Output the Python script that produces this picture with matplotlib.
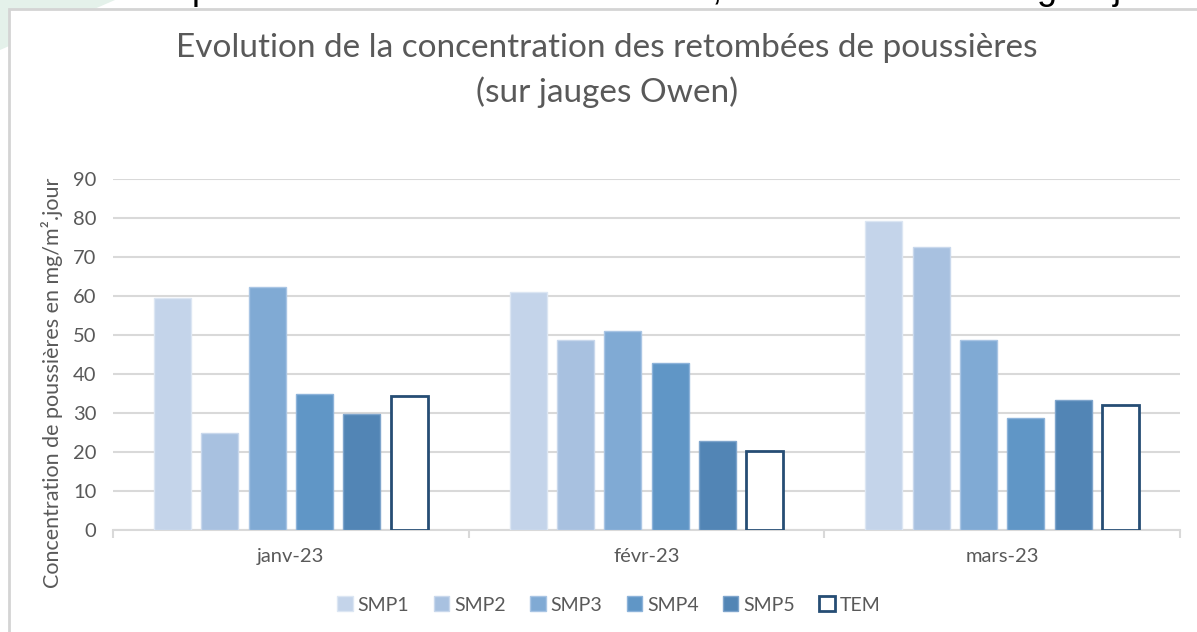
import numpy as np
import matplotlib
matplotlib.use("Agg")
import matplotlib.pyplot as plt
from matplotlib.patches import Rectangle, Polygon

plt.rcParams['font.family'] = ['Lato', 'DejaVu Sans']

# data
months = ['janv-23', 'févr-23', 'mars-23']
series = ['SMP1', 'SMP2', 'SMP3', 'SMP4', 'SMP5', 'TEM']
smp1 = [59.6, 61.0, 79.3]
smp2 = [24.9, 48.6, 72.6]
smp3 = [62.2, 50.9, 48.8]
smp4 = [34.8, 42.9, 28.7]
smp5 = [29.7, 22.8, 33.3]
tem = [34.4, 20.2, 32.1]
values = [smp1, smp2, smp3, smp4, smp5, tem]

fills = ['#C4D4EA', '#A8C1E0', '#80AAD4', '#6096C6', '#5285B5', 'white']
edges = ['#DCE6F3', '#C9D8EC', '#A9C5E4', '#8DB3DA', '#7FA5CC', '#264D74']

W, H = 1197, 632
fig = plt.figure(figsize=(W / 100, H / 100), dpi=100)

# light green decoration top-left + chart frame
fig.patches.append(Polygon([(0, 1), (115 / W, 1), (0, 1 - 50 / H)], closed=True,
                           transform=fig.transFigure, facecolor='#E4F1EA',
                           edgecolor='none', zorder=0))
fig.patches.append(Rectangle((9 / W, -0.01), 1.0, 1 - 9 / H + 0.01,
                             transform=fig.transFigure, facecolor='white',
                             edgecolor='#D4D4D4', linewidth=2, zorder=1))

# cut-off text fragments above the frame (slide text cropped in the source)
for ch, px in [('p', 192), (',', 712), ('g', 1036), ('j', 1113)]:
    fig.text(px / W, 1 + 1 / H, ch, fontsize=26, color='black',
             family='Liberation Sans', va='baseline', ha='left')

ax = fig.add_axes([113 / W, 1 - 530 / H, (1180 - 113) / W, (530 - 179) / H])
ax.set_zorder(2)
ax.patch.set_alpha(0)

x = np.arange(len(months))
step = 0.1332
width = 0.104
for i, (name, vals) in enumerate(zip(series, values)):
    pos = x + (i - 2.5) * step
    if name == 'TEM':
        ax.bar(pos, vals, width=width, facecolor='white', edgecolor=edges[i],
               linewidth=2, label=name, zorder=3)
    else:
        ax.bar(pos, vals, width=width, facecolor=fills[i], edgecolor=edges[i],
               linewidth=1, label=name, zorder=3)

ax.set_xlim(-0.5, 2.5)
ax.set_ylim(0, 90)
ax.set_yticks(np.arange(0, 91, 10))
ax.yaxis.grid(True, color='#D9D9D9', linewidth=1.5, zorder=0)
ax.set_axisbelow(True)

ax.set_xticks([-0.5, 0.5, 1.5, 2.5])
ax.set_xticklabels([])
ax.set_xticks(x, minor=True)
ax.set_xticklabels(months, minor=True)
ax.tick_params(axis='x', which='major', length=6, width=1.5, color='#D9D9D9')
ax.tick_params(axis='x', which='minor', length=0, pad=13, labelsize=14.5, labelcolor='#595959')
ax.tick_params(axis='y', length=0, pad=12, labelsize=14.5, labelcolor='#595959')

for s in ['top', 'right', 'left']:
    ax.spines[s].set_visible(False)
ax.spines['bottom'].set_color('#D9D9D9')
ax.spines['bottom'].set_linewidth(1.5)

ax.set_ylabel('Concentration de poussières en mg/m².jour', fontsize=15.5,
              color='#595959')
ax.yaxis.set_label_coords(-50 / (1180 - 113), 0.42)

fig.text(607 / W, 1 - 48 / H, 'Evolution de la concentration des retombées de poussières',
         ha='center', va='center', fontsize=24, color='#595959')
fig.text(607 / W, 1 - 92 / H, '(sur jauges Owen)',
         ha='center', va='center', fontsize=24, color='#595959')

leg = fig.legend(loc='center', bbox_to_anchor=(609 / W, 1 - 605 / H), ncol=6,
                 frameon=False, fontsize=14, handlelength=0.8, handleheight=0.8,
                 handletextpad=0.25, columnspacing=1.25)
for t in leg.get_texts():
    t.set_color('#595959')

fig.savefig('out.png', dpi=100)
